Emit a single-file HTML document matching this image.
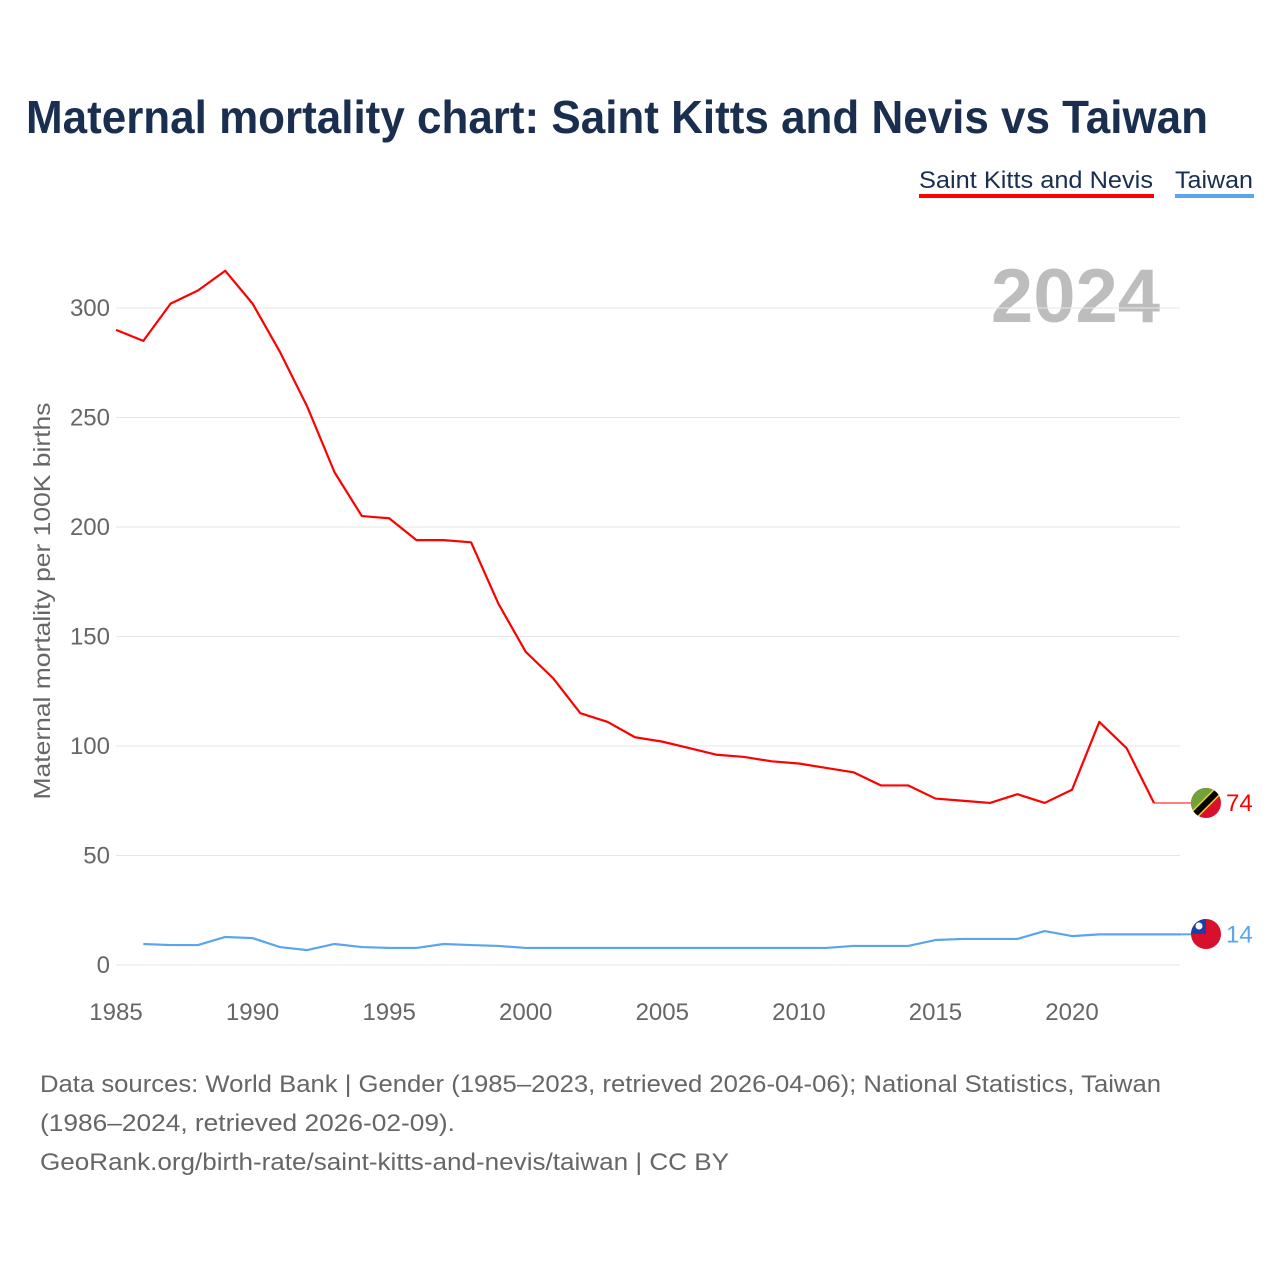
<!DOCTYPE html>
<html><head><meta charset="utf-8">
<style>
body{margin:0;background:#fff;font-family:"Liberation Sans",sans-serif;}
#wrap{position:relative;width:1280px;height:1280px;overflow:hidden;}
</style></head>
<body><div id="wrap">
<svg id="svg" width="1280" height="1280" xmlns="http://www.w3.org/2000/svg">
<text x="26" y="133" font-size="46" font-weight="bold" fill="#1a2e4f" textLength="1182" lengthAdjust="spacingAndGlyphs">Maternal mortality chart: Saint Kitts and Nevis vs Taiwan</text>
<g>
<text x="919" y="188" font-size="24" fill="#1a2e4f" textLength="234" lengthAdjust="spacingAndGlyphs">Saint Kitts and Nevis</text>
<rect x="919" y="194" width="235" height="4" fill="#ff0000"/></g>
<g>
<text x="1175" y="188" font-size="24" fill="#1a2e4f" textLength="78" lengthAdjust="spacingAndGlyphs">Taiwan</text>
<rect x="1175" y="194" width="79" height="4" fill="#5aa5ee"/></g>
<text x="1160" y="322" font-size="76" font-weight="bold" fill="#bdbdbd" text-anchor="end">2024</text>
<g id="grid"></g><g id="xt"></g><g id="series"></g>
<text transform="translate(50,601) rotate(-90)" font-size="23" fill="#666" text-anchor="middle" textLength="397" lengthAdjust="spacingAndGlyphs">Maternal mortality per 100K births</text>
<g font-size="24" fill="#666">
<text x="40" y="1092" textLength="1121" lengthAdjust="spacingAndGlyphs">Data sources: World Bank | Gender (1985–2023, retrieved 2026-04-06); National Statistics, Taiwan</text>
<text x="40" y="1131" textLength="415" lengthAdjust="spacingAndGlyphs">(1986–2024, retrieved 2026-02-09).</text>
<text x="40" y="1170" textLength="689" lengthAdjust="spacingAndGlyphs">GeoRank.org/birth-rate/saint-kitts-and-nevis/taiwan | CC BY</text>
</g>
<g>
<clipPath id="c1"><circle cx="1206" cy="803" r="15"/></clipPath>
<g clip-path="url(#c1)"><rect x="1190" y="787" width="32" height="32" fill="#d8102e"/>
<polygon points="1190,787 1222,787 1190,819" fill="#6ea33a"/>
<line x1="1222" y1="787" x2="1190" y2="819" stroke="#f5cf1c" stroke-width="9"/>
<line x1="1222" y1="787" x2="1190" y2="819" stroke="#000" stroke-width="6"/></g></g>
<g>
<clipPath id="c2"><circle cx="1206" cy="934" r="15"/></clipPath>
<g clip-path="url(#c2)"><rect x="1190" y="918" width="32" height="32" fill="#d8102e"/>
<rect x="1190" y="918" width="16" height="16" fill="#1a3fa8"/>
<circle cx="1199" cy="926" r="3.5" fill="#fff"/></g></g>
</svg>
<script>
const years=[1985,1986,1987,1988,1989,1990,1991,1992,1993,1994,1995,1996,1997,1998,1999,2000,2001,2002,2003,2004,2005,2006,2007,2008,2009,2010,2011,2012,2013,2014,2015,2016,2017,2018,2019,2020,2021,2022,2023];
const sknValues=[290,285,302,308,317,302,280,255,225,205,204,194,194,193,165,143,131,115,111,104,102,99,96,95,93,92,90,88,82,82,76,75,74,78,74,80,111,99,74];
const twYears=[1986,1987,1988,1989,1990,1991,1992,1993,1994,1995,1996,1997,1998,1999,2000,2001,2002,2003,2004,2005,2006,2007,2008,2009,2010,2011,2012,2013,2014,2015,2016,2017,2018,2019,2020,2021,2022,2023,2024];
const twValues=[9.6,9.1,9.1,12.8,12.3,8.2,6.8,9.6,8.2,7.8,7.8,9.6,9.1,8.7,7.8,7.8,7.8,7.8,7.8,7.8,7.8,7.8,7.8,7.8,7.8,7.8,8.7,8.7,8.7,11.4,11.9,11.9,11.9,15.5,13.2,14,14,14,14];
const yTicks=[0,50,100,150,200,250,300];
const xTicks=[1985,1990,1995,2000,2005,2010,2015,2020];
const sx=y=>116+(y-1985)*(1072-116)/35;
const sy=v=>965-v*657/300;
const NS="http://www.w3.org/2000/svg";
function mk(t,a,p){const e=document.createElementNS(NS,t);for(const k in a)e.setAttribute(k,a[k]);p.appendChild(e);return e;}
const grid=document.getElementById('grid');
yTicks.forEach(v=>{
 const l=mk('line',{x1:116,x2:1180,y1:sy(v),y2:sy(v),stroke:'#e6e6e6','stroke-width':1},grid);
 
 
 const t=mk('text',{x:110,y:sy(v)+8,'font-size':24,fill:'#666','text-anchor':'end'},grid);
 t.textContent=v;
 
 
});
const xt=document.getElementById('xt');
xTicks.forEach(y=>{
 const t=mk('text',{x:sx(y),y:1020,'font-size':24,fill:'#666','text-anchor':'middle'},xt);
 t.textContent=y;
 
 
});
const g=document.getElementById('series');
const p1=mk('polyline',{points:years.map((y,i)=>sx(y)+','+sy(sknValues[i])).join(' '),fill:'none',stroke:'#ff0000','stroke-width':2.2,'stroke-linejoin':'round'},g);


const last1=sknValues[sknValues.length-1];
const c1=mk('line',{x1:sx(2023),x2:1192,y1:sy(last1),y2:sy(last1),stroke:'#ff0000','stroke-width':1},g);


const p2=mk('polyline',{points:twYears.map((y,i)=>sx(y)+','+sy(twValues[i])).join(' '),fill:'none',stroke:'#5aa5ee','stroke-width':2.2,'stroke-linejoin':'round'},g);


const last2=twValues[twValues.length-1];
const c2=mk('line',{x1:sx(2024),x2:1192,y1:sy(last2),y2:sy(last2),stroke:'#5aa5ee','stroke-width':2},g);


const v1=mk('text',{x:1226,y:sy(last1)+8,'font-size':24,fill:'#ff0000'},g);
v1.textContent=Math.round(last1);


const v2=mk('text',{x:1226,y:sy(last2)+8,'font-size':24,fill:'#5aa5ee'},g);
v2.textContent=Math.round(last2);


</script>
</div></body></html>
